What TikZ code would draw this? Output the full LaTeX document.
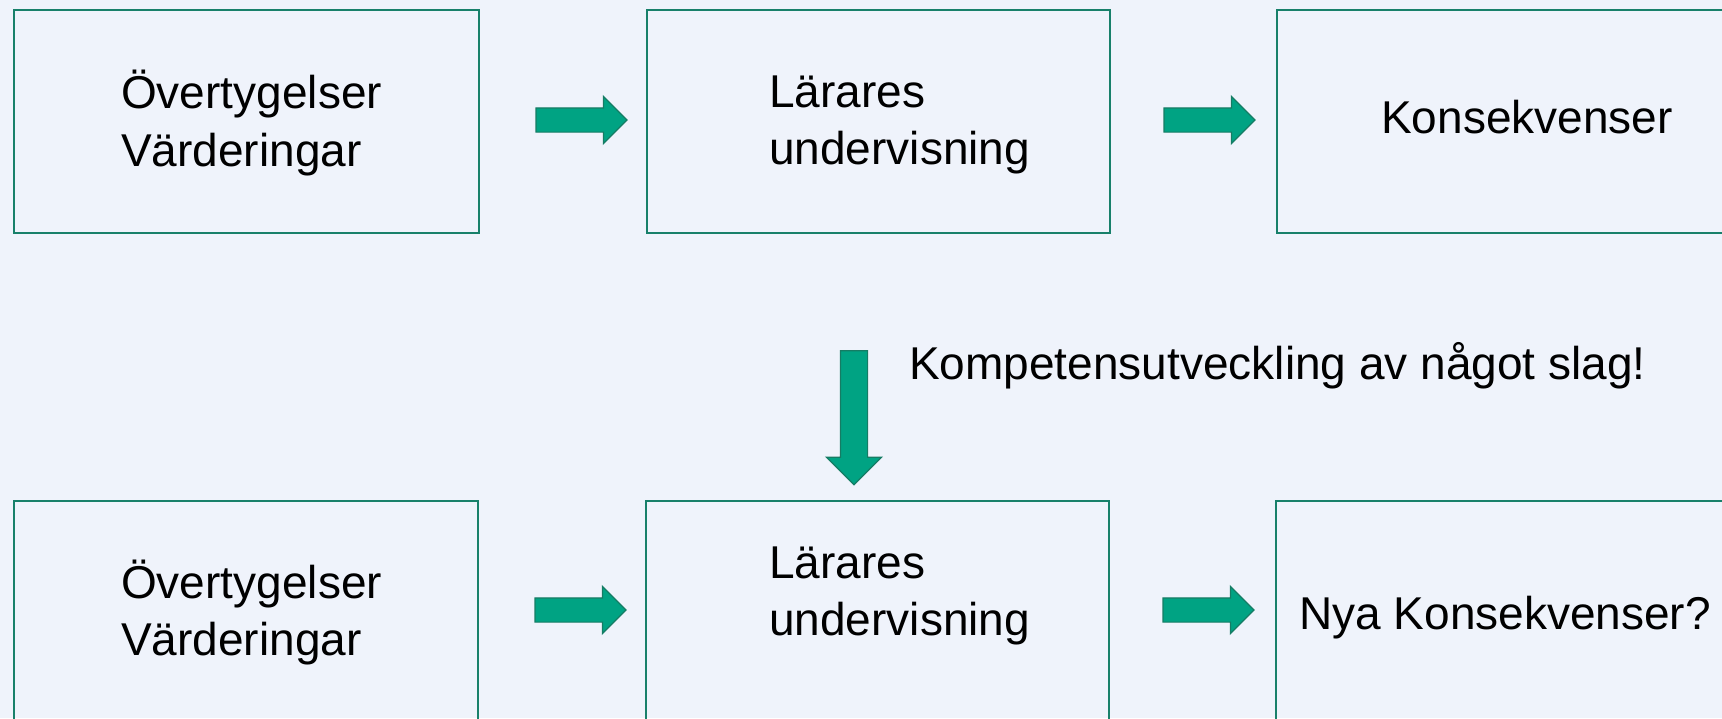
\documentclass[tikz,border=0pt]{standalone}
\usepackage{fontspec}
\setmainfont{Liberation Sans}
\usetikzlibrary{shapes.arrows}
\definecolor{bgc}{RGB}{239,243,251}
\definecolor{boxc}{RGB}{24,128,106}
\definecolor{arrfill}{RGB}{0,163,131}
\definecolor{arrdraw}{RGB}{22,124,100}
\tikzset{
  box/.style={draw=boxc, line width=2.4pt, fill=none, rectangle, anchor=north west, inner sep=0pt},
  txt/.style={anchor=base west, inner sep=0pt, font=\fontsize{46}{57}\selectfont, text=black},
  blockarrow/.style={single arrow, draw=arrdraw, fill=arrfill, line width=1.2pt, inner sep=11.5pt,
    minimum height=91pt, single arrow head extend=11.5pt},
}
\begin{document}
\begin{tikzpicture}[x=1pt,y=-1pt]
\useasboundingbox (0,0) rectangle (1722,718);
\clip (0,0) rectangle (1722,718);
\fill[bgc] (0,0) rectangle (1722,718);
% top row
\node[box, minimum width=465pt, minimum height=223pt] (b1) at (13,9) {};
\node[box, minimum width=463pt, minimum height=223pt] (b2) at (646,9) {};
\node[box, minimum width=470pt, minimum height=223pt] (b3) at (1276,9) {};
\node[txt] (t1a) at (121,108) {Övertygelser};
\node[txt] (t1b) at (121,166) {Värderingar};
\node[txt] (t2a) at (769,107) {Lärares};
\node[txt] (t2b) at (769,164) {undervisning};
\node[txt] (t3) at (1381,133) {Konsekvenser};
\node[blockarrow] (a1) at (575.5,120) {};
\node[blockarrow] (a2) at (1203.5,120) {};
% middle
\node[blockarrow, rotate=-90, inner sep=13pt, minimum height=134pt, single arrow head extend=14pt] (av) at (854,411) {};
\node[txt] (tk) at (909,379) {Kompetensutveckling av något slag!};
% bottom row
\node[box, minimum width=464pt, minimum height=260pt] (c1) at (13,500) {};
\node[box, minimum width=463pt, minimum height=260pt] (c2) at (645,500) {};
\node[box, minimum width=470pt, minimum height=260pt] (c3) at (1275,500) {};
\node[txt] (u1a) at (121,598) {Övertygelser};
\node[txt] (u1b) at (121,655) {Värderingar};
\node[txt] (u2a) at (769,578) {Lärares};
\node[txt] (u2b) at (769,635) {undervisning};
\node[txt] (u3) at (1299,629) {Nya Konsekvenser?};
\node[blockarrow] (d1) at (574.5,610) {};
\node[blockarrow] (d2) at (1202.5,610) {};
\end{tikzpicture}
\end{document}
